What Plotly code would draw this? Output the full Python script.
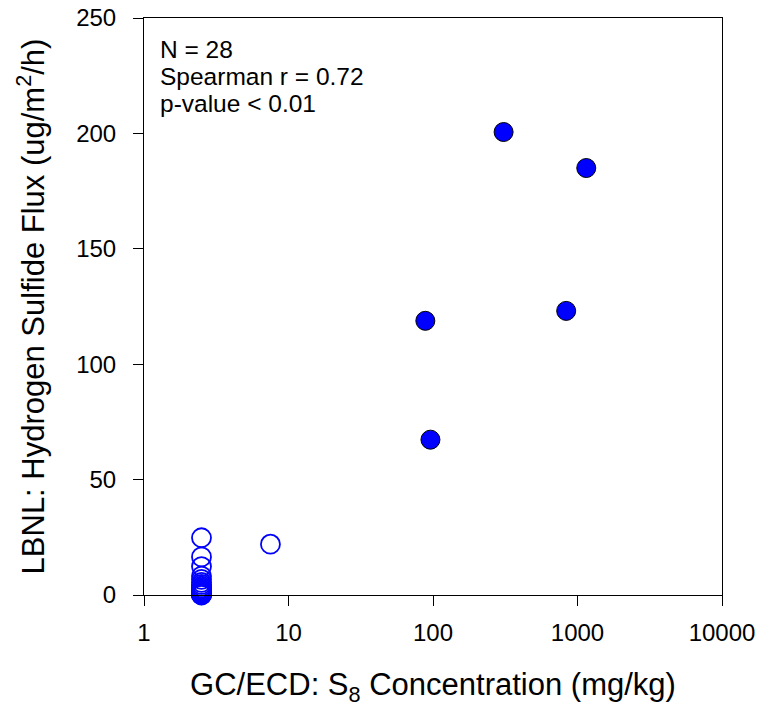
import plotly.graph_objects as go

# Detected (filled) samples
det_x = [308, 1150, 88.5, 835, 96]
det_y = [200.6, 185.0, 118.8, 123.1, 67.3]

# Non-detect (open) samples
nd_x = [2.5] * 22 + [7.5]
nd_y = [24.8, 16.5, 12.3, 8.2, 6.8, 5.5, 4.6, 3.8, 3.1, 2.5, 2.0, 1.6,
        1.3, 1.0, 0.8, 0.6, 0.5, 0.4, 0.3, 0.2, 0.1, 0.0, 22.0]

x_tickvals = [1, 10, 100, 1000, 10000]
x_ticktext = ["1", "10", "100", "1000", "10000"]
y_tickvals = [0, 50, 100, 150, 200, 250]

stats_lines = ["N = 28", "Spearman r = 0.72", "p-value < 0.01"]
stats_ypos = [0.9462, 0.8994, 0.8526]

FONT = "Liberation Sans, Arial, sans-serif"

fig = go.Figure()
fig.add_trace(go.Scatter(
    x=nd_x, y=nd_y, mode="markers", cliponaxis=False,
    marker=dict(symbol="circle-open", size=19, color="#0000FF",
                line=dict(color="#0000FF", width=1.8)),
    showlegend=False))
fig.add_trace(go.Scatter(
    x=det_x, y=det_y, mode="markers", cliponaxis=False,
    marker=dict(symbol="circle", size=19, color="#0000FF",
                line=dict(color="black", width=1)),
    showlegend=False))

for t, yp in zip(stats_lines, stats_ypos):
    fig.add_annotation(
        x=0.024, y=yp, xref="paper", yref="paper",
        xanchor="left", yanchor="middle", showarrow=False, text=t,
        font=dict(family=FONT, size=24.5, color="black"))

fig.update_layout(
    width=757, height=709,
    margin=dict(l=143.5, r=35, t=18, b=114.4, autoexpand=False),
    paper_bgcolor="white", plot_bgcolor="white",
    font=dict(family=FONT, color="black"),
    xaxis=dict(type="log", range=[0, 4], tickvals=x_tickvals, ticktext=x_ticktext,
               ticks="outside", ticklen=10, tickcolor="black", tickwidth=1,
               showline=True, linecolor="black", linewidth=1, mirror=True,
               showgrid=False, zeroline=False, automargin=False,
               ticklabelstandoff=6,
               tickfont=dict(family=FONT, size=24),
               title=dict(text="GC/ECD: S<sub>8</sub> Concentration (mg/kg)",
                          font=dict(family=FONT, size=31), standoff=28)),
    yaxis=dict(range=[0, 250], tickvals=y_tickvals,
               ticks="outside", ticklen=10, tickcolor="black", tickwidth=1,
               showline=True, linecolor="black", linewidth=1, mirror=True,
               showgrid=False, zeroline=False, automargin=False,
               ticklabelstandoff=12,
               tickfont=dict(family=FONT, size=24),
               title=dict(text="LBNL: Hydrogen Sulfide Flux (ug/m<sup>2</sup>/h)",
                          font=dict(family=FONT, size=31), standoff=22)),
)

fig.write_html("out.html")
